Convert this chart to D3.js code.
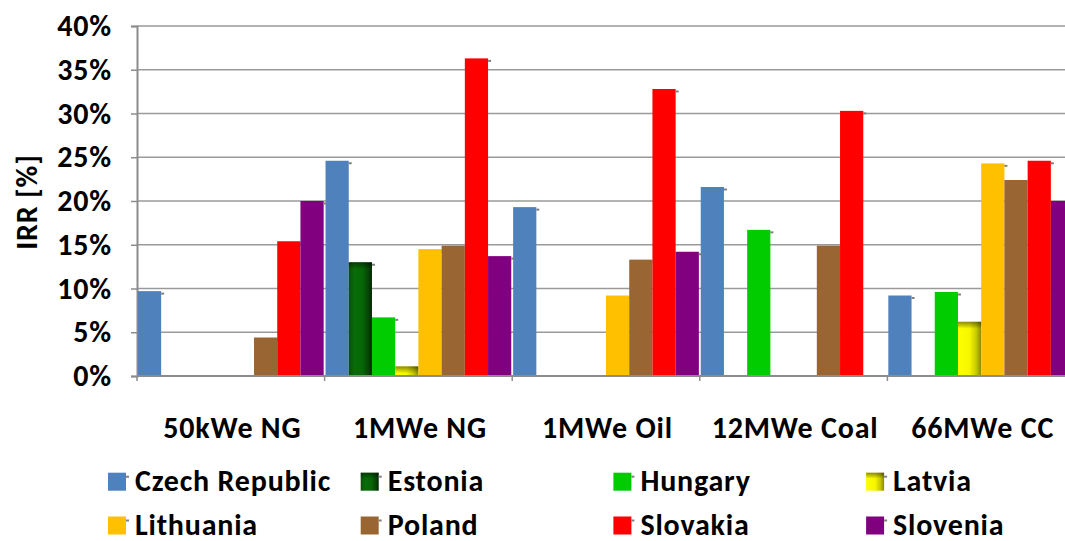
<!DOCTYPE html>
<html>
<head>
<meta charset="utf-8">
<script src="https://cdn.jsdelivr.net/npm/d3@7"></script>
<style>
  html, body { margin: 0; padding: 0; background: #fff; }
  svg { display: block; font-family: Carlito, Lato, "Open Sans", sans-serif; font-weight: bold; letter-spacing: 0.8px; }
</style>
</head>
<body>
<svg id="chart" width="1065" height="541"></svg>
<script>
// Plant configurations along the x axis
const categories = ["50kWe NG", "1MWe NG", "1MWe Oil", "12MWe Coal", "66MWe CC"];

// Countries (one bar per country in each cluster)
const countries = ["Czech Republic", "Estonia", "Hungary", "Latvia",
                   "Lithuania", "Poland", "Slovakia", "Slovenia"];

// IRR values (fraction), one array per country, in category order
const czechRepublic = [0.097, 0.246, 0.193, 0.216, 0.092];
const estonia       = [0.000, 0.130, 0.000, 0.000, 0.000];
const hungary       = [0.000, 0.067, 0.000, 0.167, 0.096];
const latvia        = [0.000, 0.011, 0.000, 0.000, 0.062];
const lithuania     = [0.000, 0.145, 0.092, 0.000, 0.243];
const poland        = [0.044, 0.149, 0.133, 0.149, 0.224];
const slovakia      = [0.154, 0.363, 0.328, 0.303, 0.246];
const slovenia      = [0.200, 0.137, 0.142, 0.000, 0.200];

const seriesValues = [czechRepublic, estonia, hungary, latvia,
                      lithuania, poland, slovakia, slovenia];

// Y axis ticks
const yTicks = [0, 0.05, 0.10, 0.15, 0.20, 0.25, 0.30, 0.35, 0.40];

const colors = ["#4f81bd", "url(#gradEstonia)", "#00cc00", "url(#gradLatvia)",
                "#ffc000", "#996633", "#ff0000", "#800080"];

const svg = d3.select("#chart");
const fontSize = 30;

// Plot area
const plotLeft = 137, plotTop = 26, plotBottom = 376;
const groupStep = 187.6;
const plotRight = plotLeft + groupStep * categories.length;

const y = d3.scaleLinear().domain([0, 0.40]).range([plotBottom, plotTop]);
const x0 = d3.scaleBand().domain(categories).range([plotLeft, plotRight]).padding(0);
const x1 = d3.scaleBand().domain(countries).range([0, x0.bandwidth()])
  .paddingInner(0).paddingOuter(0.04);

// Gradient fills
const defs = svg.append("defs");
const gE = defs.append("linearGradient").attr("id", "gradEstonia")
  .attr("x1", 0).attr("y1", 0).attr("x2", 1).attr("y2", 0);
[[0, "#0b4f0b"], [0.25, "#086d08"], [0.6, "#076507"], [0.85, "#054405"], [1, "#032603"]]
  .forEach(([o, c]) => gE.append("stop").attr("offset", o).attr("stop-color", c));
const gL = defs.append("linearGradient").attr("id", "gradLatvia")
  .attr("x1", 0).attr("y1", 0).attr("x2", 1).attr("y2", 0);
[[0, "#ffff00"], [0.5, "#f6f600"], [0.78, "#c9c900"], [1, "#8a8a00"]]
  .forEach(([o, c]) => gL.append("stop").attr("offset", o).attr("stop-color", c));
const gTop = defs.append("linearGradient").attr("id", "gradTop")
  .attr("x1", 0).attr("y1", 0).attr("x2", 0).attr("y2", 1);
gTop.append("stop").attr("offset", 0).attr("stop-color", "#000").attr("stop-opacity", 0.45);
gTop.append("stop").attr("offset", 1).attr("stop-color", "#000").attr("stop-opacity", 0);

// Horizontal gridlines
svg.append("g")
  .selectAll("line")
  .data(yTicks.filter(t => t > 0))
  .join("line")
  .attr("x1", plotLeft).attr("x2", plotRight)
  .attr("y1", d => y(d)).attr("y2", d => y(d))
  .attr("stroke", "#9a9a9a").attr("stroke-width", 1.6);

// Y axis
const yAxis = svg.append("g")
  .attr("transform", `translate(${plotLeft},0)`)
  .call(d3.axisLeft(y).tickValues(yTicks).tickFormat(d3.format(".0%"))
    .tickSize(6).tickPadding(19))
  .attr("font-family", null)
  .attr("font-size", null);
yAxis.select(".domain").attr("stroke", "#8c8c8c").attr("stroke-width", 2);
yAxis.selectAll(".tick line").attr("stroke", "#8c8c8c").attr("stroke-width", 1.5);
yAxis.selectAll(".tick text")
  .attr("font-size", fontSize).attr("fill", "#000");

// Bars
const series = svg.append("g").selectAll("g")
  .data(countries)
  .join("g")
  .attr("fill", (d, i) => colors[i]);

series.each(function(country, si) {
  const g = d3.select(this);
  const vals = seriesValues[si].map((v, ci) => ({ cat: categories[ci], v }));
  const bx = d => x0(d.cat) + x1(country);
  g.selectAll("rect.bar")
    .data(vals.filter(d => d.v > 0))
    .join("rect")
    .attr("class", "bar")
    .attr("x", bx)
    .attr("y", d => y(d.v))
    .attr("width", x1.bandwidth())
    .attr("height", d => y(0) - y(d.v));
  if (si === 1 || si === 3) {
    g.selectAll("rect.shade")
      .data(vals.filter(d => d.v > 0))
      .join("rect")
      .attr("class", "shade")
      .attr("x", bx)
      .attr("y", d => y(d.v))
      .attr("width", x1.bandwidth())
      .attr("height", d => Math.min(7, y(0) - y(d.v)))
      .attr("fill", "url(#gradTop)");
  }
  // small grey stub at the top-right corner of each bar
  g.selectAll("rect.stub")
    .data(vals.filter(d => d.v > 0))
    .join("rect")
    .attr("class", "stub")
    .attr("x", d => bx(d) + x1.bandwidth())
    .attr("y", d => y(d.v) + 1.5)
    .attr("width", 3).attr("height", 2)
    .attr("fill", "#808080");
});

// X axis
const xAxis = svg.append("g")
  .attr("transform", `translate(0,${plotBottom})`);
xAxis.append("line")
  .attr("x1", plotLeft).attr("x2", plotRight)
  .attr("stroke", "#8c8c8c").attr("stroke-width", 2);
xAxis.selectAll("line.tick")
  .data(d3.range(categories.length + 1))
  .join("line")
  .attr("class", "tick")
  .attr("x1", i => plotLeft + i * x0.step()).attr("x2", i => plotLeft + i * x0.step())
  .attr("y1", 0).attr("y2", 5)
  .attr("stroke", "#8c8c8c").attr("stroke-width", 1.5);
xAxis.selectAll("text")
  .data(categories)
  .join("text")
  .attr("x", d => x0(d) + x0.bandwidth() / 2 + 1.5)
  .attr("y", 62)
  .attr("text-anchor", "middle")
  .attr("font-size", fontSize)
  .text(d => d);

// Y axis title
svg.append("text")
  .attr("transform", "translate(37,202) rotate(-90)")
  .attr("text-anchor", "middle")
  .attr("font-size", fontSize)
  .text("IRR [%]");

// Legend: 2 rows x 4 columns
const legend = svg.append("g");
const legX0 = 108, legStep = 252.7, rowBase = [490.7, 534.5];
const items = legend.selectAll("g")
  .data(countries)
  .join("g")
  .attr("transform", (d, i) => `translate(${legX0 + (i % 4) * legStep},${rowBase[Math.floor(i / 4)]})`);
items.append("rect")
  .attr("x", 0).attr("y", -18).attr("width", 18).attr("height", 18)
  .attr("fill", (d, i) => colors[i]);
items.filter((d, i) => i === 1 || i === 3).append("rect")
  .attr("x", 0).attr("y", -18).attr("width", 18).attr("height", 6)
  .attr("fill", "url(#gradTop)");
items.append("rect")
  .attr("x", 18).attr("y", -15).attr("width", 3).attr("height", 2)
  .attr("fill", "#808080");
items.append("text")
  .attr("x", 27).attr("y", 0)
  .attr("font-size", fontSize)
  .text(d => d);
</script>
</body>
</html>
